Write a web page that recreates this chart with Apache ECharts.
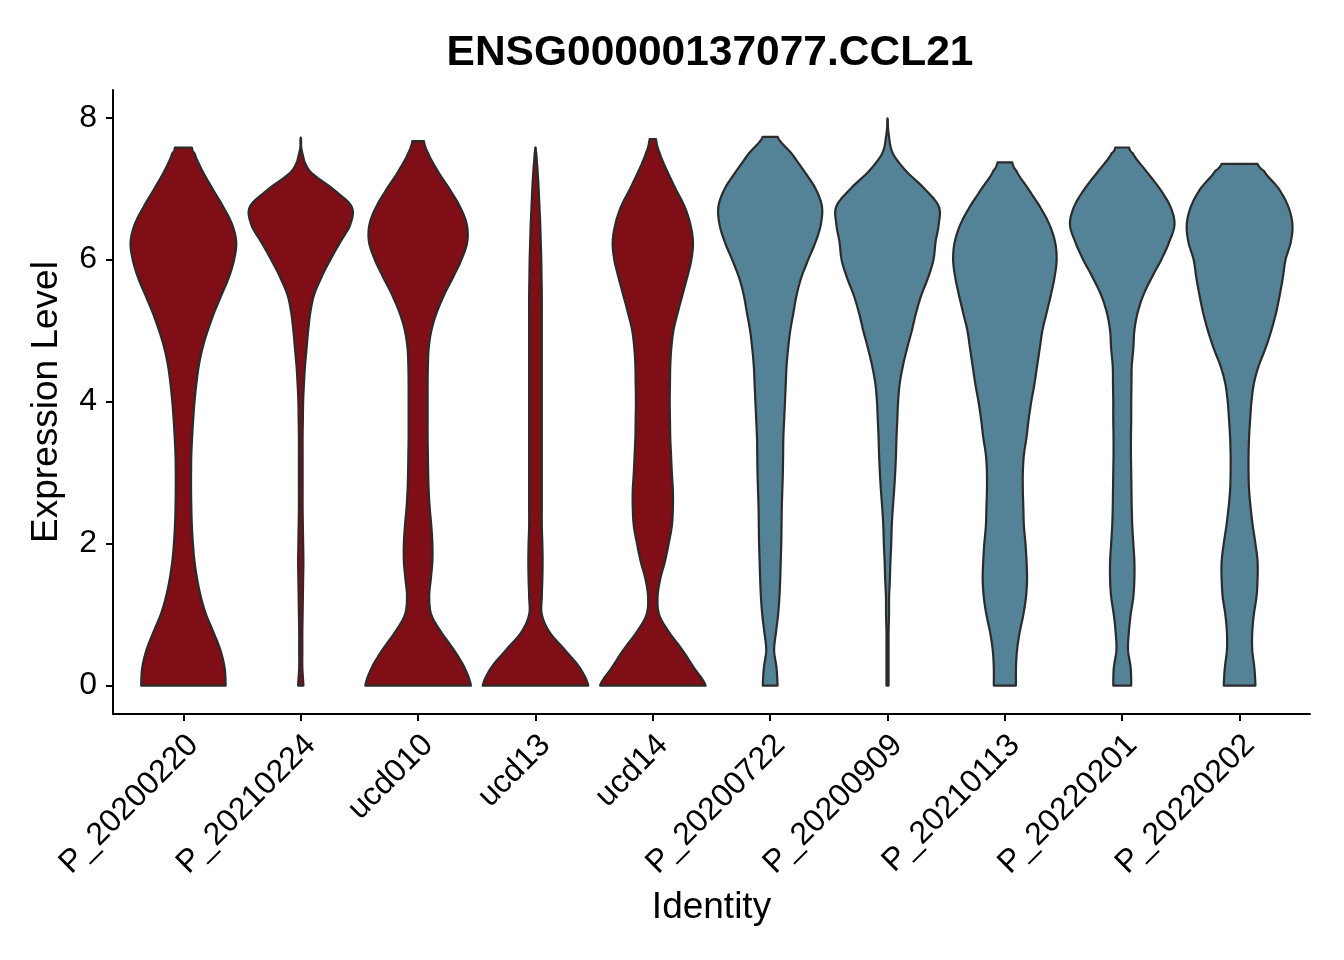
<!DOCTYPE html>
<html>
<head>
<meta charset="utf-8">
<script src="https://cdn.jsdelivr.net/npm/echarts@6/dist/echarts.min.js"></script>
<style>
html,body{margin:0;padding:0;background:#fff;}
#chart{width:1344px;height:960px;}
</style>
</head>
<body>
<div id="chart"></div>
<script>
// Identities (x axis) and their cohort (0 = first group, 1 = second group)
const categories = ['P_20200220','P_20210224','ucd010','ucd13','ucd14','P_20200722','P_20200909','P_20210113','P_20220201','P_20220202'];
const cohort = [0,0,0,0,0,1,1,1,1,1];
const yTicks = [0,2,4,6,8];

// Expression levels at which the violin widths were read
const levels = [0,0.25,0.5,0.75,1,1.25,1.5,1.75,2,2.25,2.5,2.75,3,3.25,3.5,3.75,4,4.25,4.5,4.75,5,5.25,5.5,5.75,6,6.25,6.5,6.75,7,7.25,7.5,7.75];

// Relative violin widths (1 = widest) at each level, per identity
const w_P_20200220 = [0.80,0.78,0.70,0.57,0.43,0.33,0.26,0.21,0.18,0.16,0.15,0.145,0.145,0.15,0.165,0.185,0.21,0.245,0.29,0.36,0.46,0.58,0.72,0.86,0.96,1.0,0.92,0.75,0.55,0.36,0.21];
const w_P_20210224 = [0.05,0.03,0.03,0.03,0.035,0.04,0.045,0.05,0.045,0.04,0.035,0.035,0.035,0.035,0.035,0.04,0.045,0.06,0.08,0.11,0.14,0.18,0.25,0.39,0.56,0.75,0.94,0.96,0.60,0.17,0.03];
const w_ucd010 = [1.0,0.88,0.68,0.44,0.25,0.21,0.24,0.27,0.27,0.25,0.22,0.20,0.19,0.185,0.18,0.18,0.18,0.18,0.185,0.20,0.25,0.35,0.49,0.66,0.82,0.93,0.92,0.79,0.59,0.37,0.19];
const w_ucd13 = [1.0,0.84,0.56,0.27,0.12,0.12,0.13,0.135,0.13,0.12,0.12,0.12,0.12,0.12,0.12,0.12,0.12,0.12,0.12,0.12,0.12,0.12,0.12,0.115,0.11,0.10,0.09,0.075,0.06,0.04,0.015];
const w_ucd14 = [1.0,0.78,0.56,0.31,0.12,0.09,0.14,0.23,0.30,0.36,0.38,0.38,0.36,0.345,0.33,0.325,0.32,0.325,0.33,0.35,0.39,0.47,0.56,0.65,0.73,0.76,0.71,0.60,0.43,0.27,0.13];
const w_P_20200722 = [0.14,0.12,0.075,0.11,0.15,0.175,0.19,0.20,0.21,0.215,0.22,0.23,0.24,0.245,0.25,0.265,0.28,0.295,0.31,0.34,0.38,0.44,0.50,0.59,0.72,0.86,0.96,0.98,0.86,0.64,0.40];
const w_P_20200909 = [0.02,0.02,0.02,0.02,0.028,0.03,0.045,0.055,0.07,0.08,0.10,0.125,0.145,0.16,0.17,0.185,0.20,0.23,0.29,0.37,0.46,0.54,0.64,0.77,0.87,0.91,0.97,0.97,0.70,0.35,0.10,0.025];
const w_P_20210113 = [0.21,0.21,0.23,0.28,0.35,0.40,0.42,0.41,0.39,0.36,0.35,0.34,0.34,0.36,0.41,0.45,0.50,0.56,0.61,0.66,0.71,0.79,0.87,0.94,0.98,0.95,0.84,0.66,0.44,0.22];
const w_P_20220201 = [0.17,0.16,0.11,0.125,0.16,0.21,0.23,0.23,0.21,0.19,0.18,0.175,0.17,0.165,0.165,0.17,0.17,0.175,0.18,0.21,0.23,0.29,0.40,0.56,0.74,0.89,0.99,0.91,0.71,0.45,0.20];
const w_P_20220202 = [0.30,0.28,0.24,0.24,0.27,0.32,0.34,0.34,0.30,0.25,0.21,0.18,0.17,0.17,0.18,0.20,0.225,0.27,0.36,0.49,0.60,0.69,0.76,0.82,0.87,0.97,1.0,0.92,0.74,0.46];

// Highest value (trim point) of each violin and its width there
const tops = [7.58,7.72,7.67,7.58,7.70,7.73,7.99,7.37,7.58,7.35];
const capWidths = [0.16,0,0.11,0,0.06,0.14,0,0.14,0.13,0.34];

const widths = [w_P_20200220,w_P_20210224,w_ucd010,w_ucd13,w_ucd14,w_P_20200722,w_P_20200909,w_P_20210113,w_P_20220201,w_P_20220202];

const palette = ['#800E17','#548296'];
const FONT = '"Liberation Sans", Arial, Helvetica, sans-serif';

function catmull(p0, p1, p2, p3, t) {
  const t2 = t * t, t3 = t2 * t;
  return 0.5 * ((2 * p1) + (-p0 + p2) * t + (2 * p0 - 5 * p1 + 4 * p2 - p3) * t2 + (-p0 + 3 * p1 - 3 * p2 + p3) * t3);
}

function renderViolin(params, api) {
  const i = params.dataIndex;
  const xc = i + 1;
  const ws = widths[i];
  const pts = ws.map((w, k) => [levels[k], w]);
  pts.push([tops[i], capWidths[i]]);
  const fine = [];
  const n = 10;
  for (let k = 0; k < pts.length - 1; k++) {
    const p0 = pts[Math.max(k - 1, 0)], p1 = pts[k], p2 = pts[k + 1], p3 = pts[Math.min(k + 2, pts.length - 1)];
    for (let s = 0; s < n; s++) {
      const t = s / n;
      const w = catmull(p0[1], p1[1], p2[1], p3[1], t);
      const v = p1[0] + (p2[0] - p1[0]) * t;
      fine.push([v, Math.max(w, 0.006)]);
    }
  }
  fine.push(pts[pts.length - 1]);
  const half = 0.45;
  const left = fine.map(p => api.coord([xc - p[1] * half, p[0]]));
  const right = fine.slice().reverse().map(p => api.coord([xc + p[1] * half, p[0]]));
  return {
    type: 'polygon',
    shape: { points: left.concat(right) },
    style: { fill: palette[cohort[i]], stroke: '#2b2b2b', lineWidth: 2.2, lineJoin: 'round' }
  };
}

const chart = echarts.init(document.getElementById('chart'), null, { renderer: 'canvas' });
chart.setOption({
  animation: false,
  backgroundColor: '#ffffff',
  title: {
    text: 'ENSG00000137077.CCL21',
    left: 705,
    top: 27,
    textAlign: 'center',
    textStyle: { fontFamily: FONT, fontSize: 42.5, fontWeight: 'bold', color: '#000' }
  },
  grid: { left: 113, right: 34, top: 90, bottom: 246, containLabel: false },
  xAxis: {
    type: 'value',
    min: 0.4,
    max: 10.6,
    name: 'Identity',
    nameLocation: 'middle',
    nameGap: 175,
    nameTextStyle: { fontFamily: FONT, fontSize: 37, color: '#000' },
    axisLine: { show: true, onZero: false, lineStyle: { color: '#000', width: 2 } },
    axisTick: { show: true, length: 7, customValues: [1,2,3,4,5,6,7,8,9,10], lineStyle: { color: '#000', width: 2 } },
    axisLabel: {
      customValues: [1,2,3,4,5,6,7,8,9,10],
      rotate: 45,
      margin: 12,
      fontFamily: FONT,
      fontSize: 32,
      color: '#000',
      formatter: v => '{a|' + categories[Math.round(v) - 1] + '}',
      rich: {
        a: { fontFamily: FONT, fontSize: 32, color: '#000', padding: [34, 3, 0, 0] }
      }
    },
    splitLine: { show: false }
  },
  yAxis: {
    type: 'value',
    min: -0.4,
    max: 8.39,
    name: 'Expression Level',
    nameLocation: 'middle',
    nameGap: 48,
    nameTextStyle: { fontFamily: FONT, fontSize: 37, color: '#000' },
    axisLine: { show: true, onZero: false, lineStyle: { color: '#000', width: 2 } },
    axisTick: { show: true, length: 7, customValues: yTicks, lineStyle: { color: '#000', width: 2 } },
    axisLabel: { customValues: yTicks, margin: 16, fontFamily: FONT, fontSize: 32, color: '#000' },
    splitLine: { show: false }
  },
  series: [{
    type: 'custom',
    renderItem: renderViolin,
    data: categories.map((c, i) => [i + 1, tops[i]]),
    encode: { x: 0, y: 1 },
    clip: false
  }]
});
</script>
</body>
</html>
